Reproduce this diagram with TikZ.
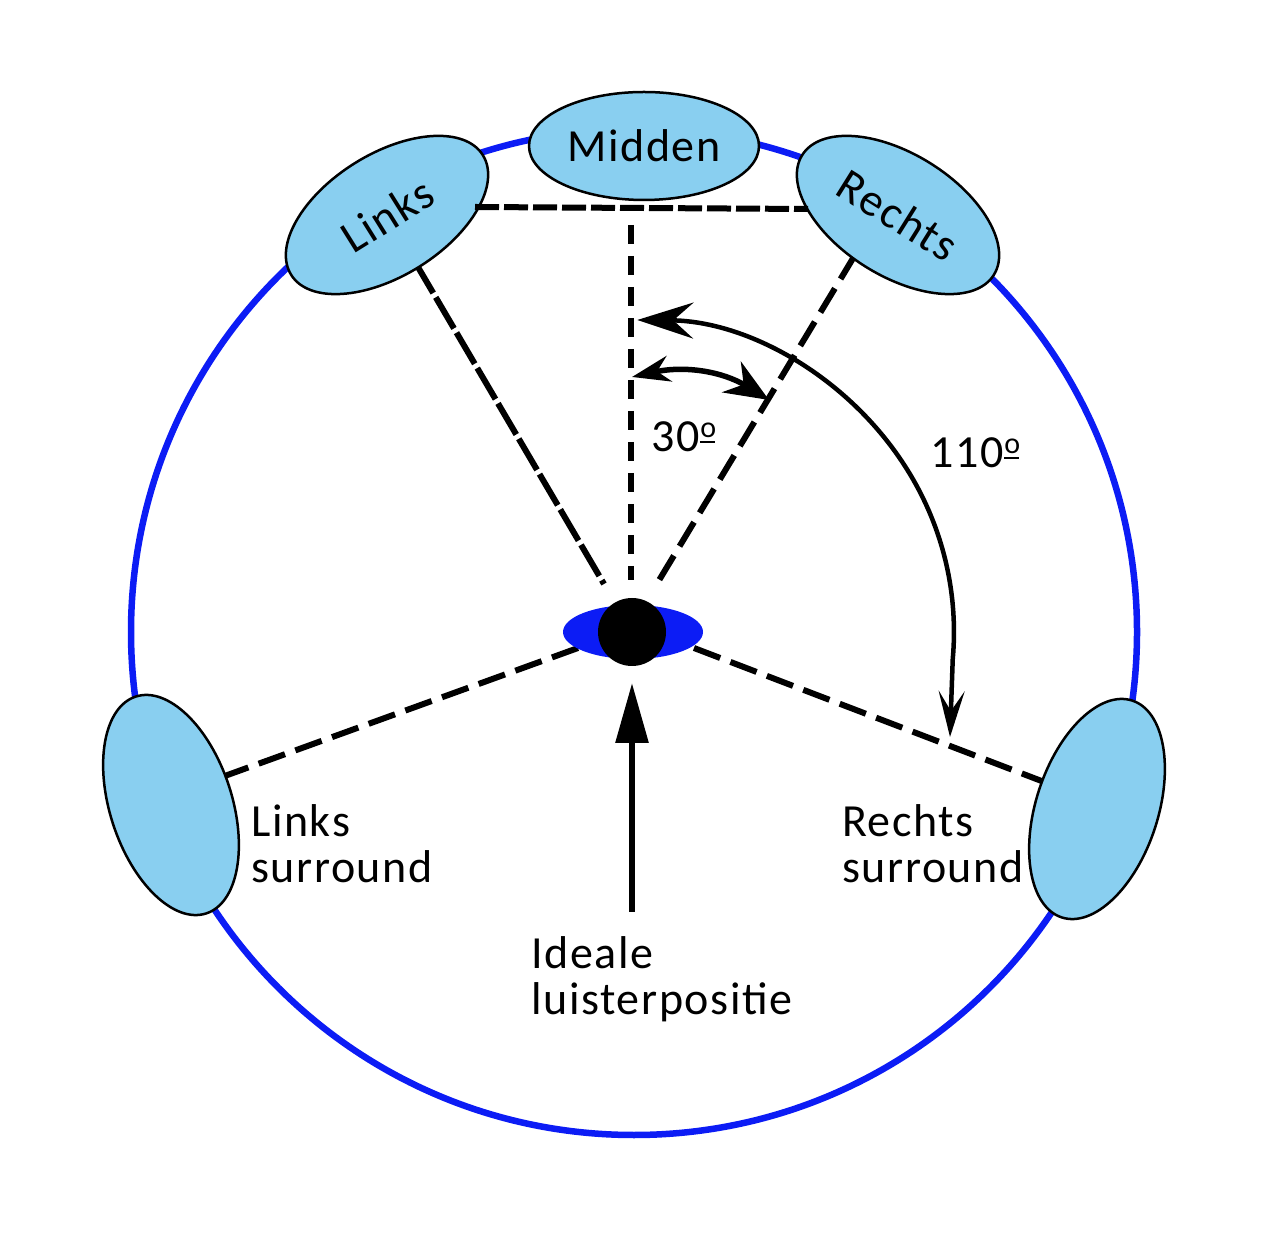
\documentclass[tikz,border=0pt]{standalone}
\usepackage{fontspec}
\setmainfont[LetterSpace=3.5]{Carlito}
\usetikzlibrary{shapes.geometric,arrows.meta}
\definecolor{ringblue}{RGB}{12,28,245}
\definecolor{spkfill}{RGB}{137,207,240}
\newcommand{\ordo}{\hspace{1pt}\rlap{\raisebox{14pt}{\fontsize{30}{30}\selectfont o}}\rule[9pt]{15pt}{2.4pt}}
\begin{document}
\begin{tikzpicture}[x=1pt,y=1pt,
  txt/.style={font=\fontsize{46}{46}\selectfont, inner sep=0pt, align=left},
  spkr/.style={ellipse, draw=black, line width=2.5pt, fill=spkfill, inner sep=0pt,
    font=\fontsize{46}{46}\selectfont},
  ring/.style={draw=ringblue, line width=6.5pt},
  dlong/.style={line width=6pt, dash pattern=on 36pt off 5pt},
  dvert/.style={line width=6pt, dash pattern=on 19pt off 12pt},
  dmid/.style={line width=6pt, dash pattern=on 28pt off 11pt},
  dhor/.style={line width=6pt, dash pattern=on 24pt off 5pt},
  angarrow/.style={line width=5.5pt},
]
\useasboundingbox (0,0) rectangle (1273,1242);

% ring
\draw[ring] (634,610) circle[radius=503pt];

% connector end points
\coordinate (Ltop) at (415,980);  \coordinate (Lbot) at (604,658);
\coordinate (Ctop) at (631,1017); \coordinate (Cbot) at (631,662);
\coordinate (Rtop) at (855,987);  \coordinate (Rbot) at (658,660);
\coordinate (H1) at (475,1035);   \coordinate (H2) at (808,1033);
\coordinate (LSa) at (222,465);   \coordinate (LSb) at (578,594);
\coordinate (RSa) at (694,594);   \coordinate (RSb) at (1052,457);

% dashed sight lines
\draw[dlong] (Ltop) -- (Lbot);
\draw[dvert] (Ctop) -- (Cbot);
\draw[dmid] (Rtop) -- (Rbot);
\draw[dmid] (LSa) -- (LSb);
\draw[dmid] (RSa) -- (RSb);

% speakers
\node[spkr, minimum width=230pt, minimum height=108pt] (M) at (644,1096) {Midden};
\node[spkr, minimum width=226pt, minimum height=122pt, rotate=32] (L) at (387,1027) {Links};
\node[spkr, minimum width=226pt, minimum height=122pt, rotate=-32] (R) at (898,1027) {Rechts};
\node[spkr, minimum width=122pt, minimum height=228pt, rotate=18] (LS) at (171,437) {};
\node[spkr, minimum width=122pt, minimum height=228pt, rotate=-18] (RS) at (1097,433) {};

\draw[dhor] (H1) -- (H2);

% listener
\node[ellipse, fill=ringblue, minimum width=140pt, minimum height=54pt, inner sep=0pt] (P) at (633,610) {};
\node[circle, fill=black, minimum size=68pt, inner sep=0pt] (head) at (632,610) {};

% listening direction arrow
\coordinate (Abase) at (632,330);
\coordinate (Atip) at (632,559);
\draw[line width=6pt, -{Triangle[length=60pt,width=32pt]}] (Abase) -- (Atip);

% 30 degree arc
\coordinate (a30s) at (632,865);
\coordinate (a30e) at (769,842);
\draw[angarrow, {Stealth[length=38pt,width=26pt]}-{Stealth[length=44pt,width=36pt]}]
  (a30s) to[bend left=22] (a30e);

% 110 degree arc
\coordinate (a110s) at (637.3,922);
\coordinate (a110e) at (950,505);
\draw[line width=4.5pt, {Stealth[length=56pt,width=36pt,inset=20pt]}-{Stealth[length=46pt,width=26pt,inset=20pt]}]
  (a110s) arc[start angle=89.4, end angle=-5, x radius=320pt, y radius=312pt] -- (a110e);

% labels
\node[txt, anchor=base west] (t30) at (651,790) {30\ordo};
\node[txt, anchor=base west] (t110) at (930,774) {110\ordo};
\node[txt, anchor=base west] (tLS) at (251,359) {Links\\surround};
\node[txt, anchor=base west] (tRS) at (842,359) {Rechts\\surround};
\node[txt, anchor=base west] (tIP) at (531,228) {Ideale\\luisterpositie};
\end{tikzpicture}
\end{document}
